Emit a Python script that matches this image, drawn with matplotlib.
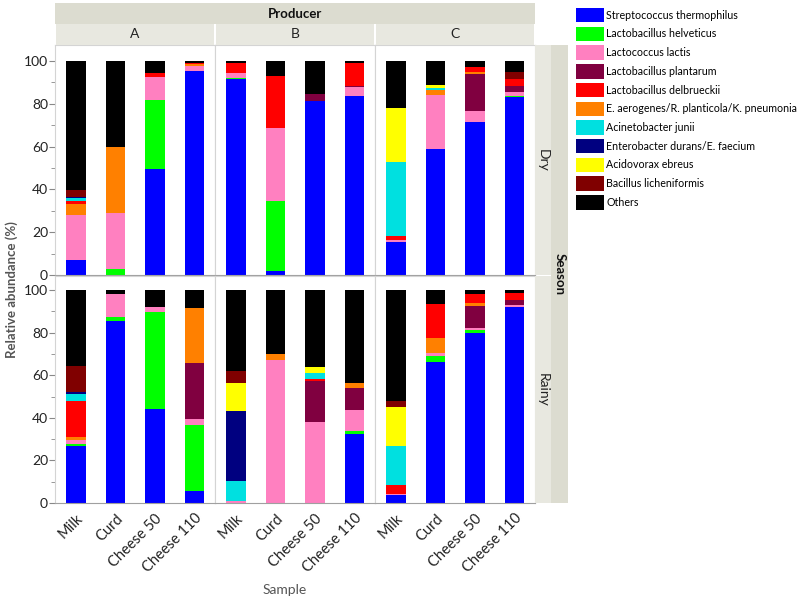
import matplotlib
matplotlib.use("Agg")
import matplotlib.pyplot as plt

plt.rcParams["font.family"] = ["Lato", "DejaVu Sans"]

species = ["Streptococcus thermophilus", "Lactobacillus helveticus", "Lactococcus lactis",
           "Lactobacillus plantarum", "Lactobacillus delbrueckii",
           "E. aerogenes/R. planticola/K. pneumonia", "Acinetobacter junii",
           "Enterobacter durans/E. faecium", "Acidovorax ebreus", "Bacillus licheniformis", "Others"]
colors = ["#0000ff", "#00ff00", "#ff80c0", "#800040", "#ff0000", "#ff8000",
          "#00e0e0", "#000080", "#ffff00", "#800000", "#000000"]
# order the segments are stacked in (bottom to top)
stack_order = [0, 1, 2, 3, 5, 4, 6, 7, 8, 9, 10]

samples = ["Milk", "Curd", "Cheese 50", "Cheese 110"]
producers = ["A", "B", "C"]
seasons = ["Dry", "Rainy"]

# rows: samples, columns: species (legend order)
dry_A = [[7.2, 0, 21, 0, 1.2, 5, 1.6, 0.3, 0, 3.3, 60.4],
         [0, 2.8, 26.3, 0, 0, 30.9, 0, 0, 0, 0, 40],
         [49.5, 32.3, 10.9, 0, 1.8, 0, 0, 0, 0, 0, 5.5],
         [95.5, 0, 2.2, 0, 0.6, 0.8, 0, 0, 0, 0, 0.9]]
dry_B = [[91.4, 0.5, 2.3, 0.4, 4.4, 0, 0, 0, 0, 0, 1.0],
         [2, 32.4, 34.1, 0, 24.5, 0, 0, 0, 0, 0, 7],
         [81.2, 0, 0, 3.6, 0, 0, 0, 0, 0, 0, 15.2],
         [83.8, 0, 4.2, 0.3, 10.7, 0, 0, 0, 0, 0, 1.0]]
dry_C = [[15.6, 0, 0.8, 0, 1.7, 0, 34.5, 0, 25.6, 0, 21.8],
         [58.9, 0, 25.2, 0, 0, 2.3, 1.1, 0, 1.2, 0, 11.3],
         [71.7, 0, 5.1, 17.1, 2.2, 1.1, 0, 0, 0, 0, 2.8],
         [83.0, 0.5, 2.1, 2.7, 3.1, 0, 0, 0, 0, 3.6, 5.0]]
rainy_A = [[27.0, 0.8, 1.9, 0, 17.1, 1.2, 3.1, 1.2, 0, 12.1, 35.6],
           [85.5, 2.0, 10.5, 0, 0, 0, 0, 0, 0, 0, 2.0],
           [44.1, 45.4, 2.7, 0, 0, 0, 0, 0, 0, 0, 7.8],
           [5.5, 30.9, 3.0, 26.2, 0, 26.1, 0, 0, 0, 0, 8.3]]
rainy_B = [[0, 0, 0.8, 0, 0, 0, 9.4, 33.2, 12.8, 5.8, 38],
           [0, 0, 67.2, 0, 0, 2.6, 0, 0, 0, 0, 30.2],
           [0, 0, 38.0, 19.5, 0.9, 0, 2.6, 0, 3.0, 0, 36.0],
           [32.2, 1.6, 10.1, 10.3, 0, 2.0, 0, 0, 0, 0, 43.8]]
rainy_C = [[3.9, 0, 0.5, 0, 3.9, 0, 18.3, 0, 18.4, 3.0, 52.0],
           [66.1, 2.9, 1.6, 0, 16.0, 6.7, 0, 0, 0, 0, 6.7],
           [80.0, 1.2, 0.8, 10.7, 4.2, 1.1, 0, 0, 0, 0, 2.0],
           [92.2, 0, 0.8, 2.3, 3.5, 0, 0, 0, 0, 0, 1.2]]

data = {("Dry", "A"): dry_A, ("Dry", "B"): dry_B, ("Dry", "C"): dry_C,
        ("Rainy", "A"): rainy_A, ("Rainy", "B"): rainy_B, ("Rainy", "C"): rainy_C}

W, H = 800, 604
fig = plt.figure(figsize=(8, 6.04), dpi=100)


def rect(x0, y0, x1, y1):
    return [x0 / W, 1 - y1 / H, (x1 - x0) / W, (y1 - y0) / H]


def blank(ax, color):
    ax.set_facecolor(color)
    ax.set_xticks([])
    ax.set_yticks([])
    for s in ax.spines.values():
        s.set_visible(False)


strip_dark = "#dcdcd0"
strip_light = "#e8e8e0"

px0, pw = 55, 160
rows_px = {"Dry": (45, 275), "Rainy": (276, 503)}
ylims = {"Dry": 107.5, "Rainy": 106.6}

handles = {}
for season in seasons:
    y0, y1 = rows_px[season]
    for pi, prod in enumerate(producers):
        ax = fig.add_axes(rect(px0 + pi * pw, y0, px0 + (pi + 1) * pw, y1))
        vals = data[(season, prod)]
        bottoms = [0.0] * len(samples)
        for k in stack_order:
            heights = [row[k] for row in vals]
            b = ax.bar(range(len(samples)), heights, width=0.5, bottom=bottoms,
                       color=colors[k], linewidth=0)
            handles[k] = b
            bottoms = [bb + h for bb, h in zip(bottoms, heights)]
        ax.set_xlim(-0.53, 3.52)
        ax.set_ylim(0, ylims[season])
        for s in ax.spines.values():
            s.set_color("#d4d4d4")
            s.set_linewidth(0.8)
        ax.spines["bottom"].set_color("#a0a0a0")
        ax.set_xticks(range(len(samples)))
        if season == "Rainy":
            ax.set_xticklabels(samples, rotation=45, ha="right", rotation_mode="anchor",
                               fontsize=10.5, color="#222222")
            ax.tick_params(axis="x", length=0, pad=6)
        else:
            ax.set_xticklabels([])
            ax.tick_params(axis="x", length=0)
        ax.set_yticks([0, 20, 40, 60, 80, 100])
        ax.set_yticks([10, 30, 50, 70, 90], minor=True)
        if pi == 0:
            ax.tick_params(axis="y", which="major", length=4, color="#888888",
                           labelsize=10, labelcolor="#222222", pad=1)
            ax.tick_params(axis="y", which="minor", length=3, color="#888888")
        else:
            ax.tick_params(axis="y", which="both", length=0, labelleft=False)

    # season strip
    sax = fig.add_axes(rect(535, y0, 551, y1))
    blank(sax, strip_light)
    sax.text(0.5, 0.5, season, rotation=-90, ha="center", va="center",
             fontsize=10, color="#222222", transform=sax.transAxes)

# outer "Season" strip
oax = fig.add_axes(rect(551, 45, 568, 503))
blank(oax, strip_dark)
oax.text(0.5, 0.5, "Season", rotation=-90, ha="center", va="center",
         fontsize=9.5, fontweight="bold", color="#111111", transform=oax.transAxes)

# top strips
tax = fig.add_axes(rect(55, 3, 535, 24))
blank(tax, strip_dark)
tax.text(0.5, 0.5, "Producer", ha="center", va="center", fontsize=9.5,
         fontweight="bold", color="#111111", transform=tax.transAxes)
for pi, prod in enumerate(producers):
    pax = fig.add_axes(rect(px0 + pi * pw + 1, 24, px0 + (pi + 1) * pw - 1, 45))
    blank(pax, strip_light)
    pax.text(0.5, 0.5, prod, ha="center", va="center", fontsize=10,
             color="#222222", transform=pax.transAxes)

fig.text(12 / W, 1 - 290 / H, "Relative abundance (%)", rotation=90, ha="center",
         va="center", fontsize=9.5, fontweight="bold", color="#555555")
fig.text(285 / W, 1 - 590 / H, "Sample", ha="center", va="center",
         fontsize=10, color="#555555")

fig.legend([handles[k] for k in range(len(species))], species,
           loc="upper left", bbox_to_anchor=(576 / W, 1 - 8 / H),
           frameon=False, fontsize=7.7, handlelength=2.6, handleheight=1.7,
           handletextpad=0.25, labelspacing=0.4, borderaxespad=0, borderpad=0)

fig.savefig("out.png", dpi=100)
